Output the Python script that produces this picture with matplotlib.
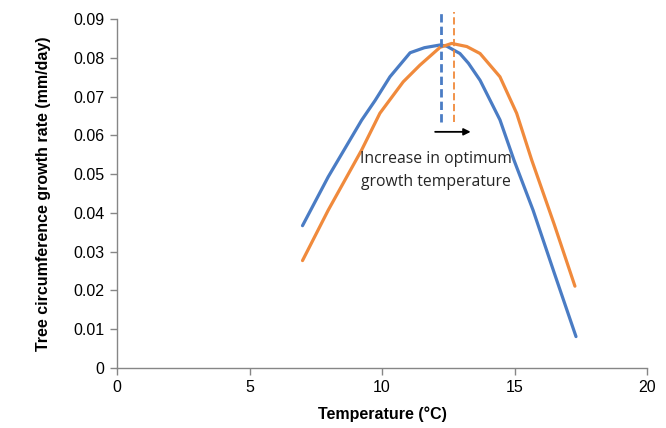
# Tree growth rate vs temperature, shift in optimum
import matplotlib
matplotlib.use("Agg")
import matplotlib.pyplot as plt

blue_t = [7.0, 7.97, 9.23, 9.74, 10.3, 11.06, 11.6, 12.19, 12.44, 12.94, 13.26,
          13.7, 14.45, 14.98, 15.7, 16.5, 17.32]
blue_rate = [0.0367, 0.0493, 0.0639, 0.069, 0.0751, 0.0813, 0.0826, 0.0833, 0.083,
             0.0811, 0.0786, 0.0742, 0.064, 0.0536, 0.0407, 0.0245, 0.0081]

orange_t = [7.0, 7.97, 9.23, 9.92, 10.8, 11.43, 12.19, 12.63, 13.2, 13.7, 14.45,
            15.08, 15.65, 16.5, 17.28]
orange_rate = [0.0277, 0.0407, 0.0562, 0.0657, 0.0738, 0.0781, 0.0827, 0.0837,
               0.0829, 0.0811, 0.0751, 0.0657, 0.0536, 0.037, 0.0211]

blue_opt = 12.23
orange_opt = 12.72

xticks = [0, 5, 10, 15, 20]
yticks = [0, 0.01, 0.02, 0.03, 0.04, 0.05, 0.06, 0.07, 0.08, 0.09]

BLUE = "#4A7CC4"
ORANGE = "#F08A3C"
GREY = "#868686"

plt.rcParams['font.family'] = ['Liberation Sans', 'DejaVu Sans']

fig = plt.figure(figsize=(6.66, 4.28), dpi=100)
ax = fig.add_axes([0.1757, 0.1402, 0.7958, 0.8154])

ax.plot(blue_t, blue_rate, color=BLUE, lw=2.3, solid_joinstyle="round",
        solid_capstyle="round")
ax.plot(orange_t, orange_rate, color=ORANGE, lw=2.3, solid_joinstyle="round",
        solid_capstyle="round")

# optimum markers
ax.plot([blue_opt, blue_opt], [0.0635, 0.0917], color=BLUE, lw=2.0,
        ls=(0, (3, 1.5)), clip_on=False)
ax.plot([orange_opt, orange_opt], [0.0635, 0.0917], color=ORANGE, lw=1.3,
        ls=(0, (4, 2)), clip_on=False)

ax.annotate("", xy=(13.45, 0.0609), xytext=(11.9, 0.0609),
            arrowprops=dict(arrowstyle="-|>", color="black", lw=1.3,
                            mutation_scale=10))
ax.text(12.02, 0.0509, "Increase in optimum\ngrowth temperature",
        ha="center", va="center", fontsize=11.3, linespacing=1.55,
        family=["Open Sans", "DejaVu Sans"], color="#262626")

ax.set_xlim(0, 20)
ax.set_ylim(0, 0.09)
ax.set_xticks(xticks)
ax.set_yticks(yticks)
ax.set_xticklabels([str(v) for v in xticks])
ax.set_yticklabels(["0"] + [f"{v:.2f}" for v in yticks[1:]])

for s in ["top", "right"]:
    ax.spines[s].set_visible(False)
for s in ["left", "bottom"]:
    ax.spines[s].set_color(GREY)
    ax.spines[s].set_linewidth(1.0)
ax.tick_params(axis="both", colors=GREY, labelcolor="black", labelsize=11.5,
               length=5, width=1.0, direction="out")
ax.tick_params(axis="x", pad=4)
ax.tick_params(axis="y", pad=4)

ax.set_xlabel("Temperature (\u00b0C)", fontsize=11.5, fontweight="bold")
ax.set_ylabel("Tree circumference growth rate (mm/day)", fontsize=11.5,
              fontweight="bold")
ax.xaxis.set_label_coords(0.5, -0.11)
ax.yaxis.set_label_coords(-0.125, 0.5)

fig.savefig("out.png", dpi=100)
